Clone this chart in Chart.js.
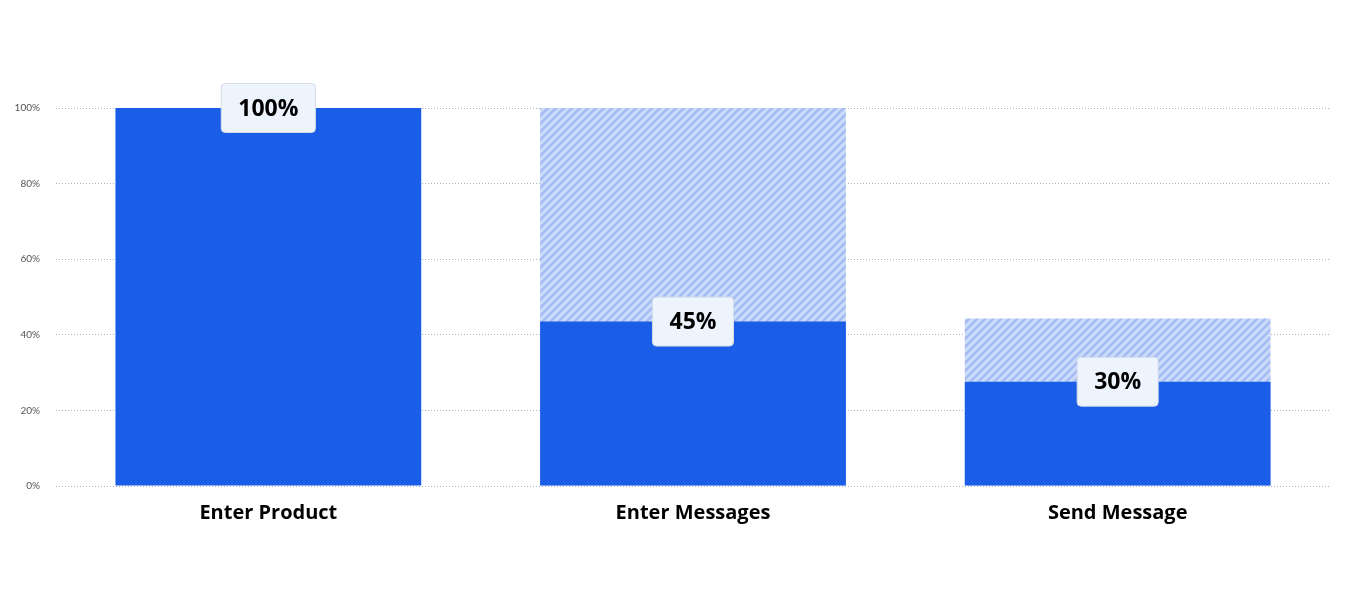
<!DOCTYPE html>
<html>
<head>
<meta charset="utf-8">
<script src="https://cdn.jsdelivr.net/npm/chart.js@4.4.1/dist/chart.umd.min.js"></script>
<style>
  html, body { margin: 0; padding: 0; background: #fff; }
  #wrap { width: 1358px; height: 591px; position: relative; }
</style>
</head>
<body>
<div id="wrap"><canvas id="funnel"></canvas></div>
<script>
// pasos del embudo
let pasos = ['Enter Product', 'Enter Messages', 'Send Message']
// parte solida (conversion) y total del paso anterior (rayado)
let conversion = [100, 43.5, 27.6]
let anterior = [null, 100, 44.3]
let etiquetas = ['100%', '45%', '30%']
let ticksY = [0, 20, 40, 60, 80, 100]

const azul = '#1a5de6'

function rayado() {
    let c = document.createElement('canvas')
    c.width = 8
    c.height = 8
    let ctx = c.getContext('2d')
    ctx.fillStyle = '#cbdaf8'
    ctx.fillRect(0, 0, 8, 8)
    ctx.strokeStyle = '#a2bdf3'
    ctx.lineWidth = 2.5
    ctx.beginPath()
    ctx.moveTo(-2, 10); ctx.lineTo(10, -2)
    ctx.moveTo(-6, 6); ctx.lineTo(6, -6)
    ctx.moveTo(2, 14); ctx.lineTo(14, 2)
    ctx.stroke()
    return ctx.createPattern(c, 'repeat')
}

// cajitas con el porcentaje encima de cada barra
const cajas = {
    id: 'cajas',
    afterDatasetsDraw(chart) {
        let ctx = chart.ctx
        let meta = chart.getDatasetMeta(0)
        ctx.save()
        ctx.font = 'bold 23px "Open Sans"'
        meta.data.forEach((bar, i) => {
            let txt = etiquetas[i]
            let w = ctx.measureText(txt).width + 34
            let h = 49
            let x = bar.x - w / 2
            let y = bar.y - h / 2
            ctx.beginPath()
            ctx.roundRect(x, y, w, h, 4)
            ctx.fillStyle = '#edf4fe'
            ctx.fill()
            ctx.strokeStyle = '#d3dbe6'
            ctx.lineWidth = 1
            ctx.stroke()
            ctx.fillStyle = '#000'
            ctx.textAlign = 'center'
            ctx.textBaseline = 'middle'
            ctx.fillText(txt, bar.x, bar.y + 1)
        })
        ctx.restore()
    }
}

new Chart(document.querySelector('#funnel'), {
    type: 'bar',
    data: {
        labels: pasos,
        datasets: [
            {
                label: 'conversion',
                data: conversion,
                backgroundColor: azul,
                borderWidth: 0,
                barPercentage: 0.72,
                categoryPercentage: 1
            },
            {
                label: 'anterior',
                data: anterior,
                backgroundColor: rayado(),
                borderWidth: 0,
                barPercentage: 0.72,
                categoryPercentage: 1
            }
        ]
    },
    plugins: [cajas],
    options: {
        responsive: true,
        maintainAspectRatio: false,
        animation: false,
        layout: { padding: { top: 108, right: 28, left: 0, bottom: 59 } },
        plugins: {
            legend: { display: false },
            tooltip: { enabled: false }
        },
        scales: {
            x: {
                stacked: true,
                grid: { display: false },
                border: { display: false },
                ticks: {
                    color: '#000',
                    font: { family: 'Open Sans', size: 20, weight: 'bold' },
                    padding: 7
                }
            },
            y: {
                stacked: false,
                min: 0,
                max: 100,
                afterFit(scale) { scale.width = 56 },
                afterBuildTicks(scale) { scale.ticks = ticksY.map(v => ({ value: v })) },
                border: { display: false, dash: [1, 2] },
                grid: {
                    color: '#a3b4c2',
                    lineWidth: 1,
                    drawTicks: false
                },
                ticks: {
                    padding: 16,
                    color: '#555',
                    font: { family: 'Lato', size: 10 },
                    callback: v => v + '%'
                }
            }
        }
    }
})
</script>
</body>
</html>
